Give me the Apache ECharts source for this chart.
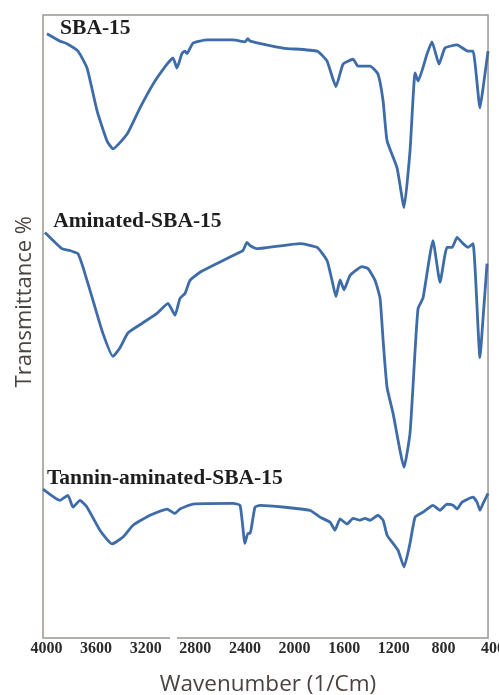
<!DOCTYPE html>
<html>
<head>
<meta charset="utf-8">
<script src="https://cdn.jsdelivr.net/npm/echarts@6/dist/echarts.min.js"></script>
<style>
html,body{margin:0;padding:0;background:#fff;}
#c{width:499px;height:695px;}
</style>
</head>
<body>
<div id="c"></div>
<script>
// Tick labels of the wavenumber axis
const xTicks = [4000, 3600, 3200, 2800, 2400, 2000, 1600, 1200, 800, 400];
const seriesNames = ['SBA-15', 'Aminated-SBA-15', 'Tannin-aminated-SBA-15'];

// SBA-15
const sbaWn = [3996,3890,3835,3746,3673,3592,3512,3464,3350,3246,3141,3028,2980,2948,2908,2883,2867,2819,2705,2496,2400,2376,2359,2093,1818,1738,1666,1609,1528,1489,1391,1327,1286,1254,1174,1117,1069,1028,1004,931,892,835,787,690,602,561,505,480,440];
const sbaT  = [97.0,95.8,95.4,94.2,91.5,84.6,79.8,78.5,80.9,85.1,88.9,92.1,93.1,91.5,93.8,94.2,93.8,95.5,96.0,96.0,95.7,96.2,95.8,94.7,94.2,92.6,88.5,92.1,92.9,91.8,91.8,90.5,86.2,79.8,75.5,69.1,78.2,90.7,89.4,93.8,95.7,92.1,94.7,95.2,94.2,94.2,85.1,88.3,94.2];

// Aminated-SBA-15
const amWn = [4012,3875,3811,3770,3746,3705,3625,3545,3464,3407,3342,3222,3109,3020,2964,2924,2883,2843,2762,2625,2496,2416,2384,2359,2303,1956,1818,1738,1698,1666,1633,1601,1552,1456,1408,1351,1311,1286,1254,1206,1117,1069,1028,1004,964,884,827,771,730,690,641,602,561,505,480,448];
const amT  = [65.1,62.5,62.2,61.9,61.7,59.5,54.2,48.9,45.2,46.6,49.0,50.6,52.1,53.7,51.8,54.5,55.3,57.4,58.7,60.1,61.4,62.2,63.5,63.0,62.5,63.3,62.7,60.6,57.4,54.8,57.5,55.9,58.2,59.6,59.3,57.4,54.6,47.8,40.2,36.1,27.4,32.9,46.2,52.9,54.6,63.8,57.1,62.7,62.7,64.3,63.3,62.7,63.3,45.0,51.4,60.1];

// Tannin-aminated-SBA-15
const tanWn = [4028,3890,3827,3786,3730,3673,3569,3472,3383,3302,3165,3028,2964,2924,2819,2496,2439,2400,2376,2359,2319,2278,1875,1795,1714,1674,1633,1577,1528,1472,1432,1391,1327,1286,1254,1206,1166,1117,1069,1028,964,884,827,771,722,690,649,561,529,505,480,440];
const tanT  = [23.9,22.1,22.9,21.0,22.1,21.0,17.3,15.1,16.2,18.1,19.7,20.7,20.0,20.7,21.5,21.6,21.3,15.2,16.8,16.8,21.0,21.3,20.5,19.4,18.6,17.3,19.1,18.3,19.2,18.9,19.2,18.9,19.7,18.9,16.5,15.2,14.1,11.4,15.2,19.4,20.2,21.3,20.5,21.5,21.3,20.7,21.8,22.6,21.8,20.5,21.6,23.2];

// Label anchor points (wavenumber, transmittance) for the curve names
const labelWn = [3890, 3946, 3996];
const labelT  = [97.9, 66.8, 25.6];

// Frame extent (wavenumber range of the plot box)
const frameWn = [4028, 440];

const pairs = (xs, ys) => xs.map((x, i) => [x, ys[i]]);
const curves = [pairs(sbaWn, sbaT), pairs(amWn, amT), pairs(tanWn, tanT)];

const chart = echarts.init(document.getElementById('c'), null, {renderer: 'canvas'});
const frameColor = '#9b9691';
const lineColor = '#3d6ca9';

const option = {
  backgroundColor: '#ffffff',
  animation: false,
  grid: {left: 43, right: 6, top: 15, bottom: 57, show: false, containLabel: false, outerBoundsMode: 'none'},
  xAxis: {
    type: 'value', inverse: true, min: 400, max: 4028,
    name: 'Wavenumber (1/Cm)', nameLocation: 'middle', nameGap: 35, nameMoveOverlap: false,
    nameTextStyle: {fontFamily: 'Open Sans', fontSize: 22.5, color: '#4b4340'},
    axisLine: {show: false},
    axisTick: {show: false},
    splitLine: {show: false},
    axisLabel: {
      customValues: xTicks, showMinLabel: true, showMaxLabel: true, hideOverlap: false,
      formatter: v => String(v),
      margin: 3, fontFamily: 'Liberation Serif', fontWeight: 'bold', fontSize: 16, color: '#2b2b2b'
    }
  },
  yAxis: {
    type: 'value', min: 0, max: 100,
    axisLine: {show: false},
    axisTick: {show: false}, axisLabel: {show: false}, splitLine: {show: false}
  },
  series: curves.map((d, i) => ({
    name: seriesNames[i], type: 'line', data: d, smooth: 0.15, symbol: 'none',
    lineStyle: {color: lineColor, width: 2.8},
    markPoint: {
      symbol: 'circle', symbolSize: 0, silent: true,
      data: [{coord: [labelWn[i], labelT[i]], value: seriesNames[i]}],
      label: {show: true, position: 'right', distance: 0, formatter: seriesNames[i],
        fontFamily: 'Liberation Serif', fontWeight: 'bold', fontSize: 21.5, color: '#1e1e1e'}
    }
  })),
  graphic: [{
    id: 'ytitle', type: 'text', left: 14, top: 216, rotation: Math.PI / 2,
    style: {text: 'Transmittance %', fontSize: 22, fontFamily: 'Open Sans', fill: '#4b4340'}
  }]
};
chart.setOption(option);

// plot frame and the axis-break gap on the bottom line (between 3200 and 2800)
const xl = chart.convertToPixel({xAxisIndex: 0}, frameWn[0]);
const xr = chart.convertToPixel({xAxisIndex: 0}, frameWn[1]);
const yt = chart.convertToPixel({yAxisIndex: 0}, 100);
const yb = chart.convertToPixel({yAxisIndex: 0}, 0);
const gx1 = chart.convertToPixel({xAxisIndex: 0}, 3004);
const gx2 = chart.convertToPixel({xAxisIndex: 0}, 2948);
chart.setOption({graphic: [
  {id: 'frame', type: 'rect', z: 1, shape: {x: xl, y: yt, width: xr - xl, height: yb - yt},
   style: {fill: 'none', stroke: frameColor, lineWidth: 1.5}},
  {id: 'gap', type: 'rect', z: 5, shape: {x: Math.min(gx1, gx2), y: yb - 3, width: Math.abs(gx2 - gx1), height: 6},
   style: {fill: '#ffffff'}}
]});
</script>
</body>
</html>
